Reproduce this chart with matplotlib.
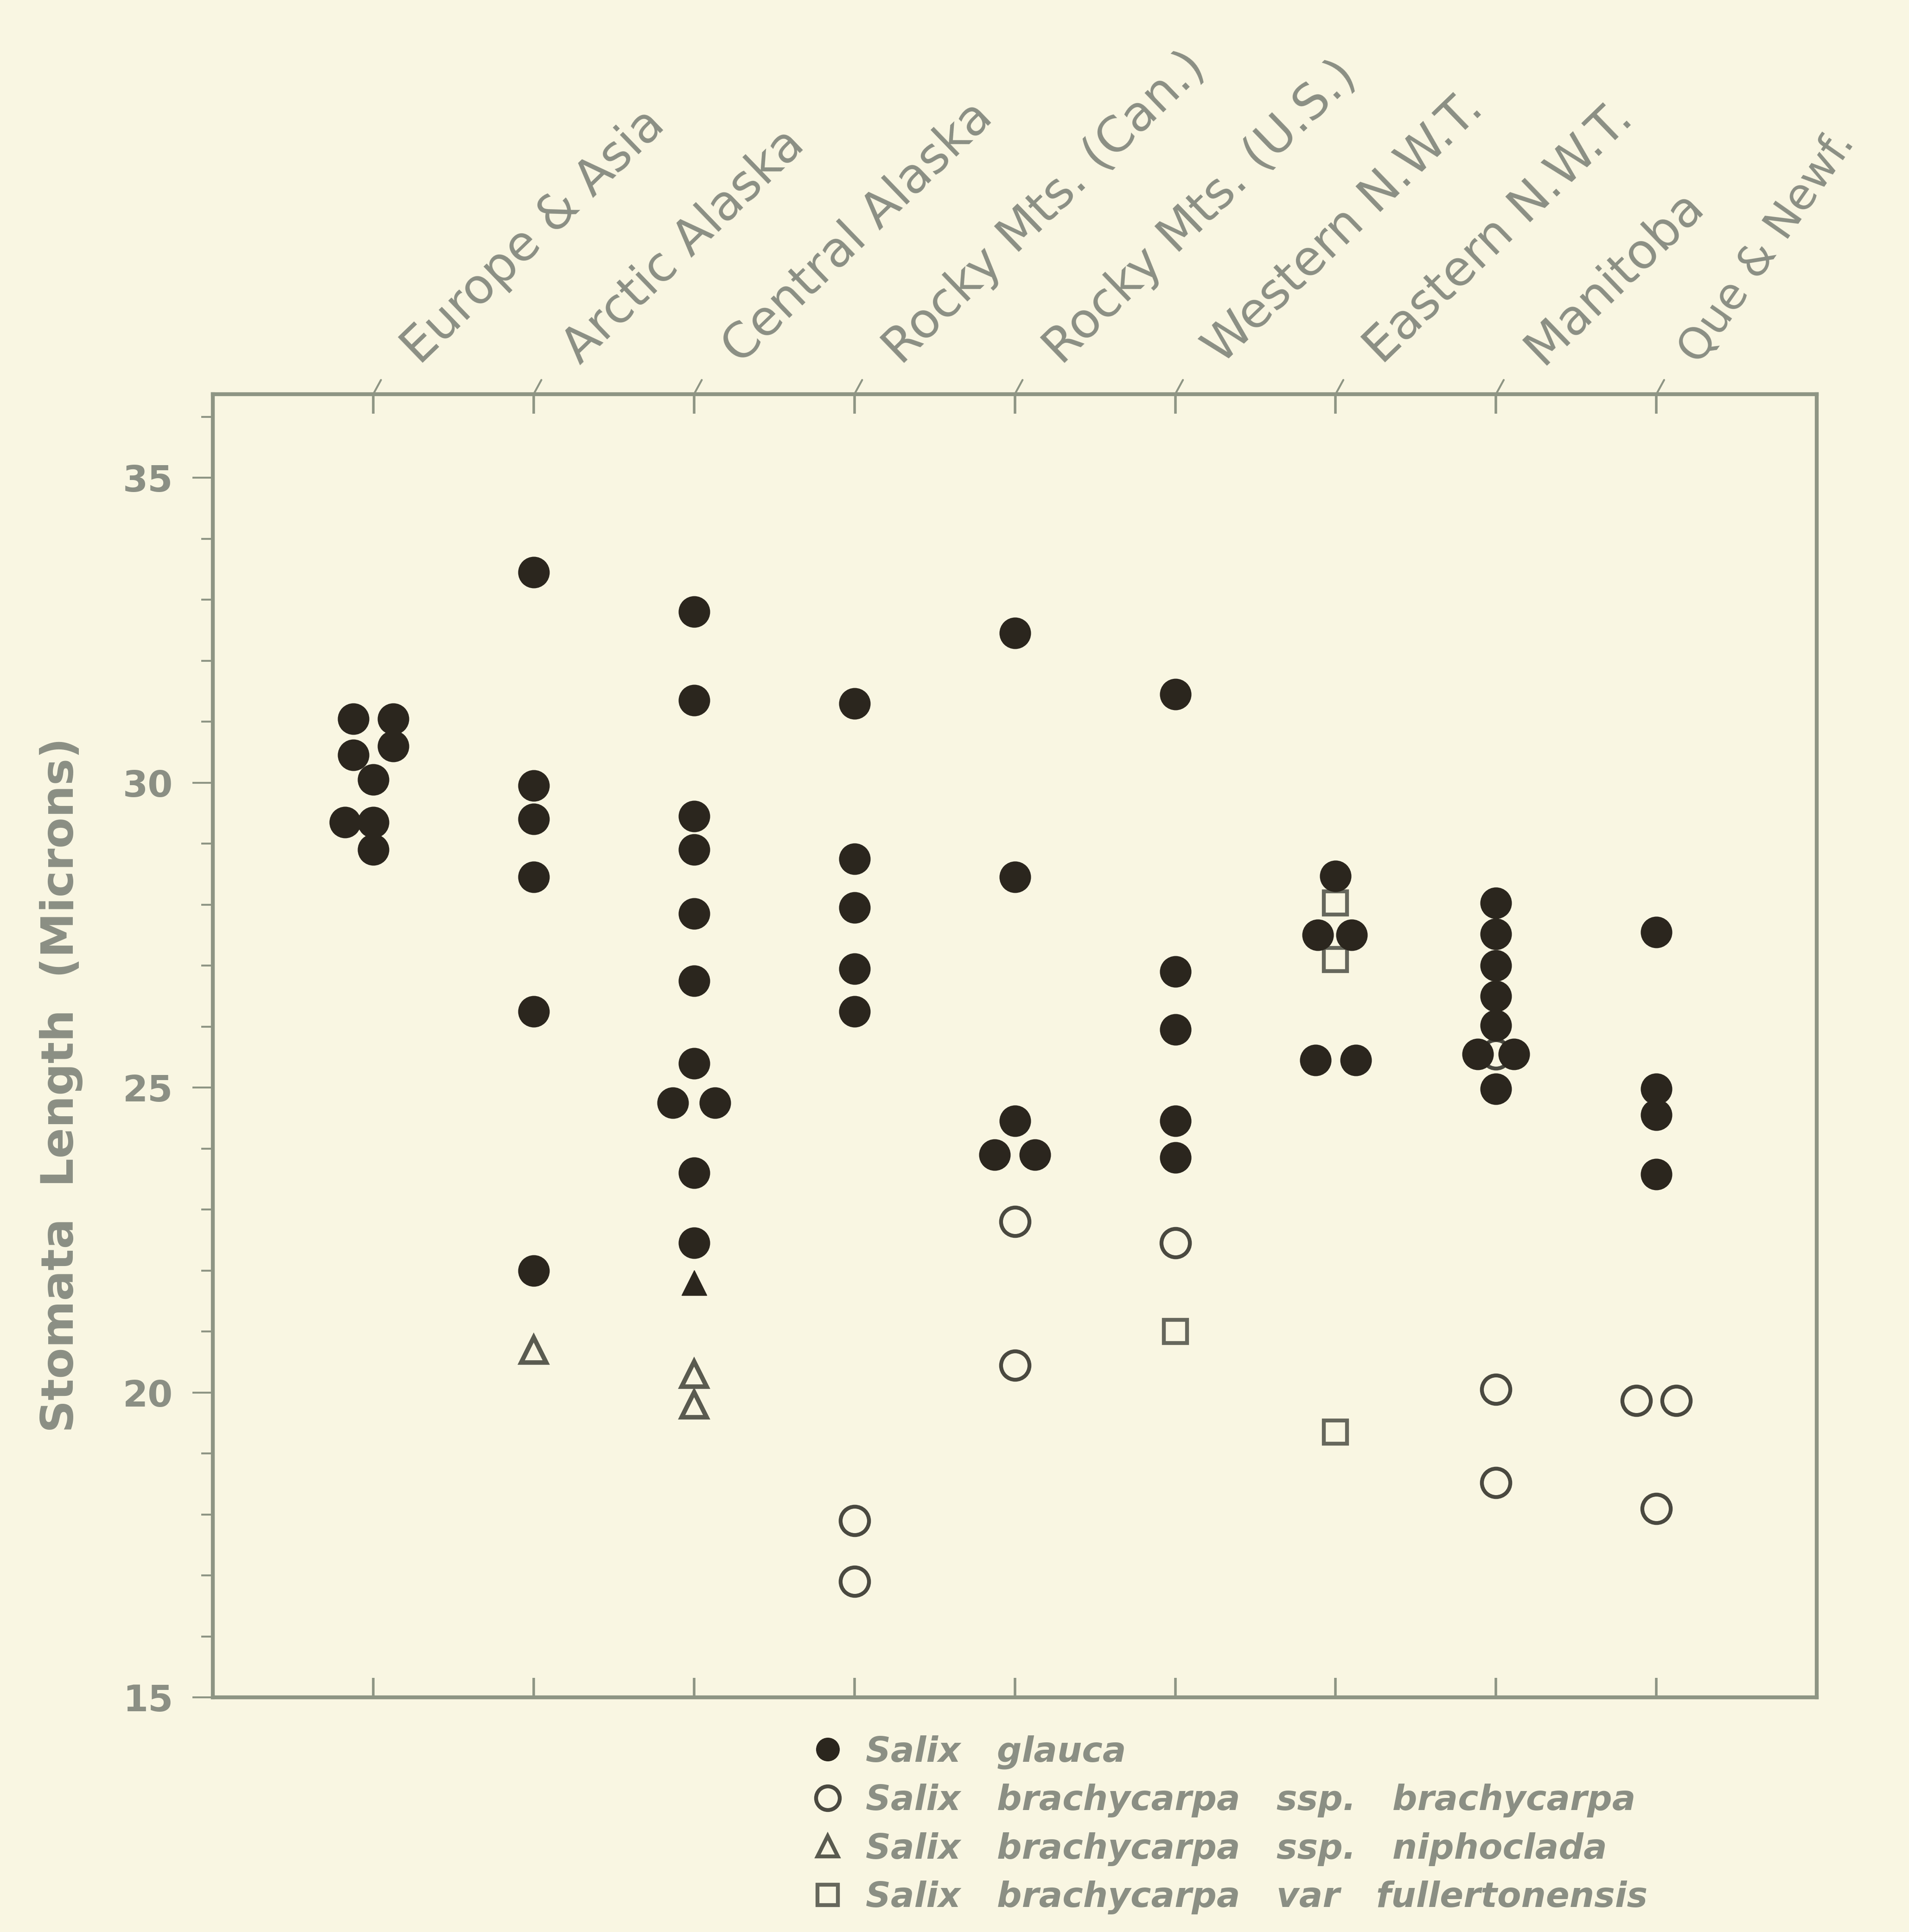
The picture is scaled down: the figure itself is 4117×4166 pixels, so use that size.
import matplotlib
matplotlib.use("Agg")
import matplotlib.pyplot as plt
from matplotlib.lines import Line2D

# ---- data -------------------------------------------------------------
categories = ["Europe & Asia", "Arctic Alaska", "Central Alaska",
              "Rocky Mts. (Can.)", "Rocky Mts. (U.S.)", "Western N.W.T.",
              "Eastern N.W.T.", "Manitoba", "Que & Newf."]

# Salix glauca (filled circles): category index, value, side-shift
glauca_cat = [0, 0, 0, 0, 0, 0, 0, 0,
              1, 1, 1, 1, 1, 1,
              2, 2, 2, 2, 2, 2, 2, 2, 2, 2, 2,
              3, 3, 3, 3, 3,
              4, 4, 4, 4, 4,
              5, 5, 5, 5, 5,
              6, 6, 6, 6, 6,
              7, 7, 7, 7, 7, 7, 7, 7,
              8, 8, 8, 8]
glauca_val = [31.05, 31.05, 30.45, 30.6, 30.05, 29.35, 29.35, 28.9,
              33.45, 29.95, 29.4, 28.45, 26.25, 22.0,
              32.8, 31.35, 29.45, 28.9, 27.85, 26.75, 25.4, 24.75, 24.75, 23.6, 22.45,
              31.3, 28.75, 27.95, 26.95, 26.25,
              32.45, 28.45, 24.45, 23.9, 23.9,
              31.45, 26.9, 25.95, 24.45, 23.85,
              28.47, 27.5, 27.5, 25.45, 25.45,
              28.03, 27.52, 27.0, 26.5, 26.02, 25.55, 25.55, 24.98,
              27.55, 24.98, 24.55, 23.58]
glauca_side = [-1, 1, -1, 1, 0, -1.4, 0, 0,
               0, 0, 0, 0, 0, 0,
               0, 0, 0, 0, 0, 0, 0, -1.05, 1.05, 0, 0,
               0, 0, 0, 0, 0,
               0, 0, 0, -1, 1,
               0, 0, 0, 0, 0,
               0, -0.9, 0.8, -1, 1,
               0, 0, 0, 0, 0, -0.9, 0.9, 0,
               0, 0, 0, 0]

# Salix brachycarpa ssp. brachycarpa (open circles)
brachy_cat = [3, 3, 4, 4, 5, 7, 7, 7, 8, 8, 8]
brachy_val = [17.9, 16.9, 22.8, 20.45, 22.45, 25.55, 20.05, 18.52, 19.87, 19.87, 18.1]
brachy_side = [0, 0, 0, 0, 0, 0, 0, 0, -1, 1, 0]

# Salix brachycarpa ssp. niphoclada (triangles; one Central Alaska point is filled)
nipho_cat = [1, 2, 2]
nipho_val = [20.7, 20.3, 19.8]
nipho_filled_cat = [2]
nipho_filled_val = [21.8]

# Salix brachycarpa var. fullertonensis (open squares)
fuller_cat = [5, 6, 6, 6]
fuller_val = [21.0, 28.03, 27.1, 19.35]

legend_labels = ["Salix   glauca",
                 "Salix   brachycarpa   ssp.   brachycarpa",
                 "Salix   brachycarpa   ssp.   niphoclada",
                 "Salix   brachycarpa   var   fullertonensis"]

y_ticks = [15, 20, 25, 30, 35]

# ---- styling ---------------------------------------------------------
BG = "#f9f6e2"
INK = "#2b261e"
GREY = "#8b8f84"
SPINE = "#8e9584"
SIDE_STEP = 0.125
plt.rcParams["font.family"] = ["DejaVu Sans"]

fig = plt.figure(figsize=(41.17, 41.66), dpi=100, facecolor=BG)
ax = fig.add_axes([0.1115, 0.1214, 0.8402, 0.6746], facecolor=BG)


def shifted(cats, sides):
    return [c + s * SIDE_STEP for c, s in zip(cats, sides)]


ms = 49
open_lw = 6
ax.plot(shifted(glauca_cat, glauca_side), glauca_val, "o", ms=ms,
        color=INK, mew=0, ls="none", zorder=4)
ax.plot(shifted(brachy_cat, brachy_side), brachy_val, "o", ms=ms * 0.9,
        mfc=BG, mec="#4a4940", mew=open_lw, ls="none", zorder=3)
ax.plot(nipho_cat, nipho_val, "^", ms=ms * 0.8,
        mfc=BG, mec="#5a5b50", mew=open_lw + 1, ls="none", zorder=3)
ax.plot(nipho_filled_cat, nipho_filled_val, "^", ms=ms * 0.8,
        color=INK, ls="none", zorder=3)
ax.plot(fuller_cat, fuller_val, "s", ms=ms * 0.74,
        mfc=BG, mec="#66675c", mew=open_lw, ls="none", zorder=3)

ax.set_xlim(-1, 9)
ax.set_ylim(15, 36.37)

for s in ax.spines.values():
    s.set_color(SPINE)
    s.set_linewidth(6)

ax.set_yticks(y_ticks)
ax.set_yticks(range(15, 37), minor=True)
ax.tick_params(axis="y", which="major", direction="out", length=32, width=3,
               color=SPINE, labelsize=56, labelcolor=GREY, pad=30)
ax.tick_params(axis="y", which="minor", direction="out", length=18, width=3,
               color=SPINE)
for lbl in ax.get_yticklabels():
    lbl.set_fontweight("bold")

ax.set_xticks(range(len(categories)))
ax.set_xticklabels([])
ax.tick_params(axis="x", which="major", direction="in", length=30, width=4,
               color=SPINE, top=True, bottom=True)

ax.set_ylabel("Stomata  Length  (Microns)", fontsize=70, fontweight="bold",
              color=GREY)
ax.yaxis.set_label_coords(-0.081, 0.47)

# category names along the top, each with a short slanted leader;
# the last one is set steeper and a little tighter so it stays on the page
n = len(categories)
for i, name in enumerate(categories):
    last = i == n - 1
    ax.annotate("", xy=(i, 1.0), xycoords=("data", "axes fraction"),
                xytext=(12, 22), textcoords="offset points",
                arrowprops=dict(arrowstyle="-", color=SPINE, lw=3,
                                shrinkA=0, shrinkB=0))
    ax.annotate(name, xy=(i, 1.0), xycoords=("data", "axes fraction"),
                xytext=(66 if last else 72, 44), textcoords="offset points",
                rotation=55 if last else 44, rotation_mode="anchor",
                ha="left", va="baseline",
                fontsize=68 if last else 76, color=GREY)

handles = [
    Line2D([], [], marker="o", ls="none", ms=ms * 0.75, color=INK, mew=0),
    Line2D([], [], marker="o", ls="none", ms=ms * 0.75, mfc=BG, mec="#4a4940", mew=open_lw),
    Line2D([], [], marker="^", ls="none", ms=ms * 0.65, mfc=BG, mec="#5a5b50", mew=open_lw),
    Line2D([], [], marker="s", ls="none", ms=ms * 0.65, mfc=BG, mec="#66675c", mew=open_lw),
]
leg = fig.legend(handles, legend_labels, loc="upper left",
                 bbox_to_anchor=(0.418, 0.111), frameon=False,
                 prop=dict(size=54, weight="bold", style="italic"),
                 labelcolor=GREY, handlelength=0.7, handletextpad=0.75,
                 labelspacing=0.42, borderpad=0)

fig.savefig("out.png", dpi=100, facecolor=BG)
